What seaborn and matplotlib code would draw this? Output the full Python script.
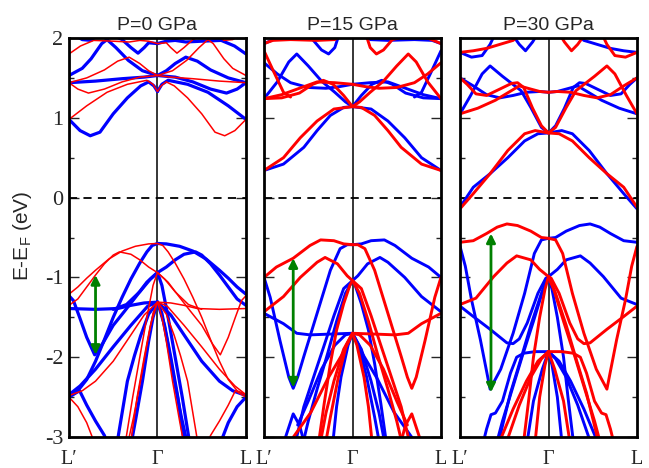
import matplotlib
matplotlib.use("Agg")
import matplotlib.pyplot as plt
import pandas as pd
import seaborn as sns

# ---------------------------------------------------------------------------
# Band energies (eV, relative to E_F) along L' -> Gamma, k running from -1 to 0.
# The Gamma -> L branch follows from the antiferromagnetic symmetry
# E_up(k) = E_dn(-k), so each spin's L' half is reused, mirrored, for the
# other spin on the Gamma -> L side.
# ---------------------------------------------------------------------------
PRESSURES = ["P=0 GPa", "P=15 GPa", "P=30 GPa"]
K_TICKS = [-1, 0, 1]
K_LABELS = ["L\u2032", "\u0393", "L"]
E_TICKS = [2, 1, 0, -1, -2, -3]
E_TICK_LABELS = ["2", "1", "0", "-1", "-2", "-3"]

P0_UP = [
    [(-1, 0.98), (-0.875, 0.84), (-0.76, 0.775), (-0.65, 0.82), (-0.5, 1.05), (-0.34, 1.25),
     (-0.19, 1.40), (-0.1, 1.45), (-0.04, 1.40), (0, 1.33)],
    [(-1, 1.44), (-0.7, 1.46), (-0.4, 1.49), (-0.15, 1.51), (0, 1.53)],
    [(-1, 1.53), (-0.85, 1.62), (-0.75, 1.74), (-0.63, 1.93), (-0.57, 1.98), (-0.47, 1.88),
     (-0.33, 1.72), (-0.17, 1.59), (0, 1.53)],
    [(-0.97, 2.06), (-0.85, 1.98), (-0.75, 1.97), (-0.66, 2.06)],
    [(-0.55, 2.06), (-0.4, 1.98), (-0.3, 1.88), (-0.22, 1.81), (-0.15, 1.88), (-0.1, 1.94), (0, 1.93)],
    [(0, -0.575), (-0.06, -0.6), (-0.12, -0.68), (-0.2, -0.82), (-0.3, -1.02), (-0.4, -1.25),
     (-0.5, -1.5), (-0.6, -1.78), (-0.7, -2.05), (-0.8, -2.28), (-0.9, -2.42), (-1, -2.47)],
    [(-1, -1.23), (-0.95, -1.29), (-0.88, -1.5), (-0.8, -1.75), (-0.71, -1.97), (-0.62, -1.83),
     (-0.5, -1.6), (-0.37, -1.42), (-0.25, -1.25), (-0.12, -1.06), (0, -0.94)],
    [(-1, -1.39), (-0.7, -1.40), (-0.45, -1.39), (-0.3, -1.35), (-0.15, -1.32), (0, -1.31)],
    [(-0.5, -1.40), (-0.35, -1.34), (-0.2, -1.18), (-0.08, -1.02), (0, -0.94)],
    [(-1, -2.47), (-0.875, -2.36), (-0.7, -2.15), (-0.5, -1.87), (-0.3, -1.6), (-0.11, -1.36), (0, -1.31)],
    [(-1, -2.5), (-0.88, -2.42), (-0.8, -2.6), (-0.7, -2.8), (-0.6, -2.98), (-0.56, -3.1)],
    [(-0.46, -3.1), (-0.4, -2.7), (-0.34, -2.3), (-0.26, -1.98), (-0.19, -1.73), (-0.1, -1.46), (0, -1.31)],
    [(0, -1.31), (-0.05, -1.5), (-0.1, -1.8), (-0.17, -2.3), (-0.25, -2.8), (-0.3, -3.1)],
]
P0_DN = [
    [(-1, 0.98), (-0.8, 1.15), (-0.57, 1.32), (-0.34, 1.42), (-0.12, 1.47), (-0.05, 1.42), (0, 1.33)],
    [(-1, 1.44), (-0.8, 1.50), (-0.6, 1.60), (-0.45, 1.71), (-0.32, 1.76), (-0.2, 1.68), (-0.1, 1.59), (0, 1.53)],
    [(-1, 1.44), (-0.9, 1.36), (-0.78, 1.31), (-0.6, 1.36), (-0.4, 1.45), (-0.2, 1.51), (0, 1.53)],
    [(-1, 1.80), (-0.87, 1.90), (-0.72, 1.97), (-0.5, 1.96), (-0.32, 1.95), (-0.2, 1.97), (-0.1, 1.96), (0, 1.93)],
    [(-1, -1.21), (-0.9, -1.12), (-0.8, -1.01), (-0.7, -0.91), (-0.55, -0.77), (-0.4, -0.67),
     (-0.25, -0.61), (-0.1, -0.58), (0, -0.575)],
    [(-1, -1.35), (-0.9, -1.27), (-0.8, -1.12), (-0.7, -0.97), (-0.6, -0.83), (-0.5, -0.72),
     (-0.43, -0.68), (-0.3, -0.71), (-0.2, -0.78), (-0.1, -0.87), (0, -0.94)],
    [(-1, -2.48), (-0.85, -2.42), (-0.7, -2.3), (-0.5, -2.05), (-0.3, -1.72), (-0.15, -1.47), (0, -1.31)],
    [(0, -0.94), (-0.05, -1.1), (-0.12, -1.5), (-0.2, -2.0), (-0.28, -2.5), (-0.36, -3.05)],
    [(0, -1.31), (-0.05, -1.45), (-0.12, -1.85), (-0.2, -2.35), (-0.27, -2.75), (-0.33, -3.05)],
    [(0, -1.31), (-0.08, -1.6), (-0.15, -2.0), (-0.23, -2.5), (-0.3, -3.05)],
    [(-1, -2.5), (-0.9, -2.62), (-0.8, -2.82), (-0.72, -3.05)],
]

P15_UP = [
    [(-1, 0.34), (-0.78, 0.42), (-0.55, 0.63), (-0.4, 0.84), (-0.25, 1.03), (-0.1, 1.13), (0, 1.14)],
    [(-1, 1.24), (-0.85, 1.45), (-0.72, 1.70), (-0.63, 1.80), (-0.5, 1.65), (-0.35, 1.46),
     (-0.2, 1.32), (-0.08, 1.20), (0, 1.14)],
    [(-1, 1.69), (-0.85, 1.55), (-0.7, 1.44), (-0.5, 1.38), (-0.3, 1.37), (-0.15, 1.39), (0, 1.42)],
    [(-1, 1.93), (-0.85, 2.0), (-0.6, 2.02), (-0.45, 1.98), (-0.35, 1.85), (-0.27, 1.80),
     (-0.2, 1.88), (-0.15, 2.05)],
    [(-1, -1.0), (-0.93, -1.25), (-0.82, -1.79), (-0.72, -2.25), (-0.67, -2.39), (-0.62, -2.25),
     (-0.55, -1.99), (-0.4, -1.45), (-0.25, -0.91), (-0.14, -0.64), (-0.06, -0.59), (0, -0.59)],
    [(-1, -1.45), (-0.78, -1.58), (-0.63, -1.70), (-0.48, -1.72), (-0.25, -1.71), (0, -1.70)],
    [(0, -1.04), (-0.1, -1.14), (-0.21, -1.48), (-0.32, -1.85), (-0.44, -2.25), (-0.55, -2.62),
     (-0.63, -3.0), (-0.65, -3.08)],
    [(0, -1.04), (-0.08, -1.2), (-0.18, -1.55), (-0.28, -1.95), (-0.4, -2.4), (-0.5, -2.8), (-0.56, -3.08)],
    [(0, -1.70), (-0.05, -1.85), (-0.13, -2.25), (-0.18, -2.62), (-0.22, -3.05)],
    [(-0.78, -3.08), (-0.67, -2.71), (-0.6, -2.85), (-0.55, -3.05)],
    [(-0.62, -2.85), (-0.5, -2.55), (-0.35, -2.15), (-0.2, -1.85), (-0.08, -1.72), (0, -1.70)],
]
P15_DN = [
    [(-1, 0.34), (-0.78, 0.50), (-0.59, 0.75), (-0.4, 0.96), (-0.21, 1.11), (0, 1.14)],
    [(-1, 1.24), (-0.8, 1.25), (-0.6, 1.31), (-0.45, 1.42), (-0.33, 1.47), (-0.22, 1.42),
     (-0.1, 1.28), (0, 1.14)],
    [(-1, 1.24), (-0.8, 1.29), (-0.6, 1.37), (-0.4, 1.45), (-0.2, 1.44), (0, 1.42)],
    [(-1, 1.84), (-0.9, 1.60), (-0.78, 1.32), (-0.7, 1.26)],
    [(-1, 1.93), (-0.9, 1.97), (-0.7, 1.98), (-0.4, 1.97), (-0.2, 1.98), (-0.1, 2.06)],
    [(-1, -1.0), (-0.86, -0.87), (-0.67, -0.76), (-0.48, -0.6), (-0.36, -0.53), (-0.21, -0.54),
     (-0.1, -0.58), (0, -0.59)],
    [(-1, -1.43), (-0.78, -1.24), (-0.59, -1.0), (-0.4, -0.81), (-0.31, -0.75), (-0.17, -0.83),
     (-0.06, -0.98), (0, -1.04)],
    [(0, -1.04), (-0.03, -1.1), (-0.1, -1.33), (-0.18, -1.66), (-0.25, -2.08), (-0.32, -2.58), (-0.38, -3.05)],
    [(0, -1.70), (-0.1, -1.9), (-0.21, -2.3), (-0.3, -2.7), (-0.36, -3.05)],
    [(0, -1.70), (-0.07, -1.85), (-0.16, -2.25), (-0.25, -2.75), (-0.3, -3.05)],
    [(-0.7, -3.05), (-0.47, -2.69), (-0.28, -2.27), (-0.125, -1.98), (0, -1.71)],
]

P30_UP = [
    [(-1, -0.12), (-0.85, 0.13), (-0.66, 0.30), (-0.46, 0.50), (-0.27, 0.71), (-0.12, 0.80), (0, 0.81)],
    [(-1, 1.05), (-0.88, 1.28), (-0.75, 1.55), (-0.66, 1.65), (-0.52, 1.52), (-0.31, 1.34),
     (-0.2, 1.13), (-0.08, 0.88), (0, 0.81)],
    [(-1, 1.50), (-0.85, 1.40), (-0.7, 1.29), (-0.55, 1.25), (-0.4, 1.28), (-0.25, 1.32), (-0.1, 1.33), (0, 1.32)],
    [(-1, 1.82), (-0.87, 1.76), (-0.75, 1.78), (-0.66, 1.92), (-0.6, 2.06)],
    [(-0.42, 2.06), (-0.33, 1.92), (-0.26, 1.84), (-0.18, 1.95), (-0.12, 2.06)],
    [(-1, -0.61), (-0.94, -0.86), (-0.87, -1.28), (-0.77, -1.78), (-0.66, -2.40), (-0.54, -2.15),
     (-0.40, -1.7), (-0.27, -1.2), (-0.16, -0.70), (-0.08, -0.53), (0, -0.51)],
    [(-1, -1.36), (-0.85, -1.49), (-0.66, -1.65), (-0.47, -1.82), (-0.4, -1.83), (-0.33, -1.77),
     (-0.24, -1.57), (-0.12, -1.2), (-0.03, -1.01), (0, -0.99)],
    [(0, -1.93), (-0.15, -1.93), (-0.28, -1.95), (-0.36, -2.0), (-0.43, -2.2), (-0.52, -2.55),
     (-0.6, -2.7), (-0.65, -2.72), (-0.7, -2.9), (-0.74, -3.08)],
    [(0, -0.99), (-0.08, -1.2), (-0.2, -1.6), (-0.32, -2.05), (-0.43, -2.45), (-0.54, -2.95), (-0.56, -3.05)],
    [(0, -0.99), (-0.06, -1.15), (-0.17, -1.55), (-0.3, -2.0), (-0.41, -2.4), (-0.52, -2.8), (-0.58, -3.05)],
    [(0, -1.93), (-0.07, -2.15), (-0.17, -2.55), (-0.24, -3.05)],
]
P30_DN = [
    [(-1, -0.14), (-0.85, 0.05), (-0.66, 0.30), (-0.46, 0.59), (-0.27, 0.80), (-0.15, 0.84), (0, 0.81)],
    [(-1, 1.05), (-0.8, 1.12), (-0.6, 1.22), (-0.45, 1.32), (-0.33, 1.40), (-0.2, 1.36), (-0.1, 1.33), (0, 1.32)],
    [(-1, 1.50), (-0.92, 1.42), (-0.82, 1.30), (-0.7, 1.28), (-0.55, 1.36), (-0.42, 1.43), (-0.35, 1.44),
     (-0.28, 1.38), (-0.18, 1.12), (-0.08, 0.90), (0, 0.81)],
    [(-1, 1.82), (-0.85, 1.84), (-0.7, 1.87), (-0.55, 1.92), (-0.4, 1.97), (-0.3, 2.06)],
    [(-1, -0.56), (-0.85, -0.54), (-0.7, -0.45), (-0.58, -0.37), (-0.47, -0.33), (-0.35, -0.35),
     (-0.2, -0.42), (-0.08, -0.5), (0, -0.51)],
    [(-1, -1.34), (-0.82, -1.26), (-0.62, -0.99), (-0.47, -0.82), (-0.36, -0.73), (-0.2, -0.78),
     (-0.1, -0.9), (0, -0.99)],
    [(-0.55, -3.05), (-0.4, -2.65), (-0.25, -2.3), (-0.12, -2.05), (0, -1.93)],
    [(-0.47, -3.05), (-0.33, -2.6), (-0.2, -2.25), (-0.08, -2.02), (0, -1.93)],
    [(0, -0.99), (-0.04, -1.15), (-0.1, -1.5), (-0.17, -2.0), (-0.22, -2.5), (-0.28, -3.05)],
    [(0, -1.93), (-0.04, -2.1), (-0.1, -2.5), (-0.15, -3.05)],
]

PANEL_BANDS = [(P0_UP, P0_DN), (P15_UP, P15_DN), (P30_UP, P30_DN)]

# Optical transition marked in each panel: (k, lower E, upper E)
ARROW_K = [-0.70, -0.67, -0.65]
ARROW_LOW = [-1.97, -2.38, -2.44]
ARROW_HIGH = [-0.97, -0.76, -0.45]

SPIN_COLORS = {"up": "#0000ff", "dn": "#ff0000"}
LINE_WIDTHS = [{"up": 2.3, "dn": 1.1}, {"up": 2.1, "dn": 2.1}, {"up": 2.1, "dn": 2.1}]


def build_frame():
    rows = []
    for p, (up, dn) in enumerate(PANEL_BANDS):
        for spin, other, halves in (("up", "dn", up), ("dn", "up", dn)):
            for b, band in enumerate(halves):
                for k, e in band:
                    rows.append((p, spin, f"{spin}-{b}-a", k, e))
                    rows.append((p, other, f"{spin}-{b}-b", -k, e))
    return pd.DataFrame(rows, columns=["panel", "spin", "band", "k", "E"])


sns.set_style("ticks")
plt.rcParams["axes.unicode_minus"] = False
SERIF = ["Liberation Serif", "DejaVu Serif"]
SANS = ["Liberation Sans", "DejaVu Sans"]

df = build_frame()
fig = plt.figure(figsize=(6.49, 4.68), dpi=100)
lefts = [0.1063, 0.4068, 0.7088]

for p in range(3):
    ax = fig.add_axes([lefts[p], 0.0662, 0.2727, 0.8526])
    sub = df[df["panel"] == p]
    for spin in ("up", "dn"):
        sns.lineplot(data=sub[sub["spin"] == spin], x="k", y="E", units="band",
                     estimator=None, sort=False, color=SPIN_COLORS[spin],
                     linewidth=LINE_WIDTHS[p][spin], legend=False, ax=ax)

    ax.axvline(0, color="black", lw=1.1, zorder=1)
    ax.axhline(0, color="black", lw=1.3, ls=(0, (4.5, 3.5)), zorder=1)

    ax.annotate("", xy=(ARROW_K[p], ARROW_HIGH[p]), xytext=(ARROW_K[p], ARROW_LOW[p]),
                arrowprops=dict(arrowstyle="<|-|>", color="#008000", lw=2.0,
                                mutation_scale=13, shrinkA=0, shrinkB=0), zorder=5)

    ax.set_xlim(-1, 1)
    ax.set_ylim(-3, 2)
    ax.set_xlabel("")
    ax.set_ylabel("")
    for s in ax.spines.values():
        s.set_linewidth(2.0)
        s.set_color("black")

    ax.set_xticks(K_TICKS)
    ax.set_xticklabels(K_LABELS, fontsize=14.5, family=SERIF)
    ax.tick_params(axis="x", length=0, pad=9)

    ax.set_yticks(E_TICKS)
    ax.set_yticks([1.5, 0.5, -0.5, -1.5, -2.5], minor=True)
    ax.tick_params(axis="y", which="major", direction="in", left=True, right=True,
                   length=7, width=1.0)
    ax.tick_params(axis="y", which="minor", direction="in", left=True, right=True,
                   length=3.5, width=1.0)
    if p == 0:
        ax.set_yticklabels(E_TICK_LABELS, fontsize=16, family=SERIF)
        ax.tick_params(axis="y", which="major", pad=4)
    else:
        ax.set_yticklabels([])

    ax.set_title(PRESSURES[p], fontsize=14, family=SANS, pad=6)

fig.text(0.034, 0.496, "E-E$_\\mathregular{F}$ (eV)", rotation=90, fontsize=15,
         family=SANS, ha="center", va="center")

fig.savefig("out.png", dpi=100)
